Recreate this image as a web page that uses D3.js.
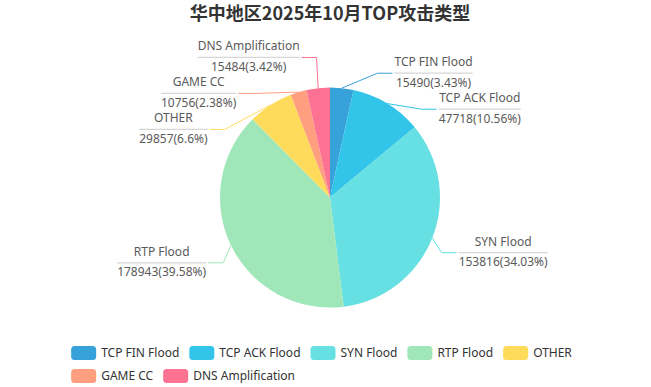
<!DOCTYPE html>
<html>
<head>
<meta charset="utf-8">
<script src="https://cdn.jsdelivr.net/npm/d3@7"></script>
<style>
  body { margin: 0; background: #fff; }
  svg { display: block; font-family: "Noto Sans", "Noto Sans CJK SC", sans-serif; }
</style>
</head>
<body>
<script>
const titleText = "华中地区2025年10月TOP攻击类型";
const categories = ["TCP FIN Flood", "TCP ACK Flood", "SYN Flood", "RTP Flood", "OTHER", "GAME CC", "DNS Amplification"];
const values = [15490, 47718, 153816, 178943, 29857, 10756, 15484];
const colors = ["#37a2da", "#32c5e9", "#67e0e3", "#9fe6b8", "#ffdb5c", "#ff9f7f", "#fb7293"];

(function(){
  const width = 651, height = 387;
  const cx = 330, cy = 197.5, radius = 110;
  const len = 15, len2 = 15, dist = 2, labelH = 36;

  // percent with 2 decimals, largest remainder so they sum to 100
  function percents(vals) {
    const sum = d3.sum(vals), digits = 100;
    const votes = vals.map(v => v / sum * 100 * digits);
    const seats = votes.map(v => Math.floor(v));
    let left = 100 * digits - d3.sum(seats);
    const rem = votes.map((v, i) => v - seats[i]);
    while (left > 0) {
      const i = d3.maxIndex(rem);
      seats[i]++; rem[i] = -1; left--;
    }
    return seats.map(s => +(s / digits).toFixed(2));
  }

  const data = categories.map((c, i) => ({name: c, value: values[i], color: colors[i]}));
  const pct = percents(values);

  const svg = d3.select("body").append("svg")
      .attr("width", width)
      .attr("height", height);

  svg.append("text")
      .attr("x", cx)
      .attr("y", 20)
      .attr("text-anchor", "middle")
      .attr("font-family", "'Noto Sans CJK SC', sans-serif")
      .attr("font-size", 18)
      .attr("font-weight", "bold")
      .attr("fill", "#333")
      .text(titleText);

  const arcs = d3.pie().sort(null).value(d => d.value)(data);
  const arc = d3.arc().innerRadius(0).outerRadius(radius);

  svg.append("g")
      .attr("transform", `translate(${cx},${cy})`)
    .selectAll("path")
    .data(arcs)
    .join("path")
      .attr("d", arc)
      .attr("fill", d => d.data.color);

  // label layout, same idea as echarts 4 pie labels
  const items = arcs.map((a, i) => {
    const mid = (a.startAngle + a.endAngle) / 2;
    const dx = Math.sin(mid), dy = -Math.cos(mid);
    const dir = dx < 0 ? -1 : 1;
    const x2 = cx + (radius + len) * dx;
    return {
      i, dir,
      x1: cx + radius * dx, y1: cy + radius * dy,
      x: x2 + dir * (len2 + dist),
      y: cy + (radius + len) * dy,
      height: labelH
    };
  });

  function adjustSide(list, dir) {
    list.sort((a, b) => a.y - b.y);
    function shiftDown(start, end, delta) {
      for (let j = start; j < end; j++) {
        if (list[j].y + delta > height) break;
        list[j].y += delta;
        if (j > start && j + 1 < end && list[j + 1].y > list[j].y + list[j].height) {
          shiftUp(j, delta / 2);
          return;
        }
      }
      shiftUp(end - 1, delta / 2);
    }
    function shiftUp(end, delta) {
      for (let j = end; j >= 0; j--) {
        if (list[j].y - delta < 0) break;
        list[j].y -= delta;
        if (j > 0 && list[j].y > list[j - 1].y + list[j - 1].height) break;
      }
    }
    function changeX(sub, isDown) {
      let last = isDown ? Number.MAX_VALUE : 0;
      sub.forEach(d => {
        const deltaY = Math.abs(d.y - cy);
        const rr = radius + len + len2;
        let deltaX = deltaY < radius + len
          ? Math.sqrt(rr * rr - deltaY * deltaY)
          : Math.abs(d.x - cx);
        if (isDown && deltaX >= last) deltaX = last - 10;
        if (!isDown && deltaX <= last) deltaX = last + 10;
        d.x = cx + deltaX * dir;
        last = deltaX;
      });
    }
    let lastY = 0;
    for (let i = 0; i < list.length; i++) {
      const delta = list[i].y - lastY;
      if (delta < 0) shiftDown(i, list.length, -delta);
      lastY = list[i].y + list[i].height;
    }
    if (height - lastY < 0) shiftUp(list.length - 1, lastY - height);
    changeX(list.filter(d => d.y < cy), false);
    changeX(list.filter(d => d.y >= cy), true);
  }
  adjustSide(items.filter(d => d.dir > 0), 1);
  adjustSide(items.filter(d => d.dir < 0), -1);

  items.forEach(d => {
    d.lx2 = d.x - d.dir * dist;
    d.lx1 = d.lx2 - d.dir * len2;
  });

  svg.append("g")
      .attr("fill", "none")
      .attr("stroke-width", 1)
    .selectAll("polyline")
    .data(items)
    .join("polyline")
      .attr("stroke", d => colors[d.i])
      .attr("points", d => [[d.x1, d.y1], [d.lx1, d.y], [d.lx2, d.y]].join(" "));

  const lab = svg.append("g")
      .attr("font-size", 12)
      .attr("fill", "#5a5a5a")
    .selectAll("g")
    .data(items)
    .join("g");

  lab.each(function(d) {
    const g = d3.select(this);
    const t1 = g.append("text").attr("text-anchor", "middle").text(categories[d.i]);
    const t2 = g.append("text").attr("text-anchor", "middle").text(`${values[d.i]}(${pct[d.i]}%)`);
    const bw = Math.max(t1.node().getComputedTextLength(), t2.node().getComputedTextLength());
    const left = d.dir > 0 ? d.x : d.x - bw;
    t1.attr("x", left + bw / 2).attr("y", d.y - 7);
    t2.attr("x", left + bw / 2).attr("y", d.y + 13.5);
    g.append("line")
        .attr("x1", left).attr("x2", left + bw)
        .attr("y1", d.y).attr("y2", d.y)
        .attr("stroke", "#d6d6d6")
        .attr("stroke-width", 1.2);
  });

  // legend
  const iconW = 25, iconH = 14, gap = 10, rowH = 23, maxRow = 540;
  const legend = svg.append("g").attr("font-size", 12).attr("fill", "#333");
  const leg = legend.selectAll("g")
    .data(data)
    .join("g");
  leg.append("rect")
      .attr("width", iconW)
      .attr("height", iconH)
      .attr("rx", 3.5)
      .attr("fill", d => d.color);
  leg.append("text")
      .attr("x", iconW + 5)
      .attr("y", iconH / 2 + 4.3)
      .text(d => d.name);

  let x = 0, row = 0, boxW = 0;
  const pos = [];
  leg.each(function() {
    const w = iconW + 5 + d3.select(this).select("text").node().getComputedTextLength();
    if (x > 0 && x + w > maxRow) { x = 0; row++; }
    pos.push([x, row]);
    boxW = Math.max(boxW, x + w);
    x += w + gap;
  });
  const legLeft = width / 2 - 4 - boxW / 2;
  leg.attr("transform", (d, i) => `translate(${legLeft + pos[i][0]},${346 + pos[i][1] * rowH})`);
})();
</script>
</body>
</html>
